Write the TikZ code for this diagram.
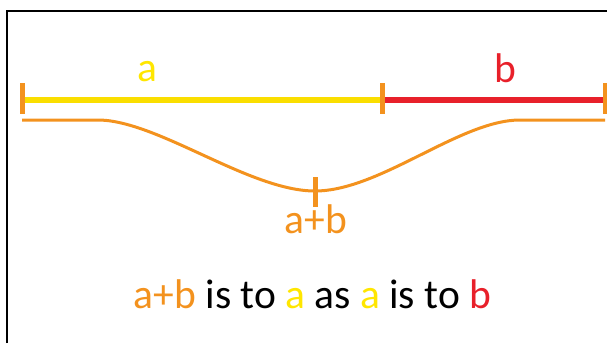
\documentclass[tikz,border=0pt]{standalone}
\usepackage{fontspec}
\setmainfont{Carlito}
\definecolor{cyel}{RGB}{250,222,0}
\definecolor{cyeltext}{RGB}{255,230,0}
\definecolor{cred}{RGB}{232,32,42}
\definecolor{corange}{RGB}{243,146,30}
\begin{document}
\begin{tikzpicture}[x=1pt,y=-1pt,
  lbl/.style={anchor=base,inner sep=0pt,font=\fontsize{41.5}{48}\selectfont},
  tick/.style={draw=corange,line width=5pt},
  seg/.style={line width=6pt},
  frame/.style={draw=black,line width=2pt}]
\useasboundingbox (0,0) rectangle (607,343);
% frame (only left and top edges visible)
\draw[frame] (7,343) -- (7,11) -- (607,11);
% main points
\coordinate (A) at (22,100);
\coordinate (M) at (382,100);
\coordinate (B) at (605,100);
\draw[seg,draw=cyel] (A) -- (M);
\draw[seg,draw=cred] (M) -- (B);
\draw[tick] (22,83) -- (22,114);
\draw[tick] (382,83) -- (382,114);
\draw[tick] (605,83) -- (605,114);
% labels
\node[lbl,text=cyeltext] (la) at (147,81) {a};
\node[lbl,text=cred] (lb) at (505,82) {b};
% curve
\coordinate (C0) at (22,120);
\coordinate (C1) at (100,120);
\coordinate (Cm) at (315,191);
\coordinate (C2) at (520,120);
\coordinate (C3) at (605,120);
\draw[corange,line width=3pt] (C0) -- (C1) .. controls (160,122) and (250,191) .. (Cm)
  .. controls (380,191) and (460,120) .. (C2) -- (C3);
\draw[tick,line width=5pt] (315,177) -- (315,207);
\node[lbl,text=corange] (lab) at (316,233) {a+b};
% sentence
\node[lbl] (sent) at (312.5,308) {\textcolor{corange}{a+b} is to \textcolor{cyeltext}{a} as \textcolor{cyeltext}{a} is to \textcolor{cred}{b}};
\end{tikzpicture}
\end{document}
